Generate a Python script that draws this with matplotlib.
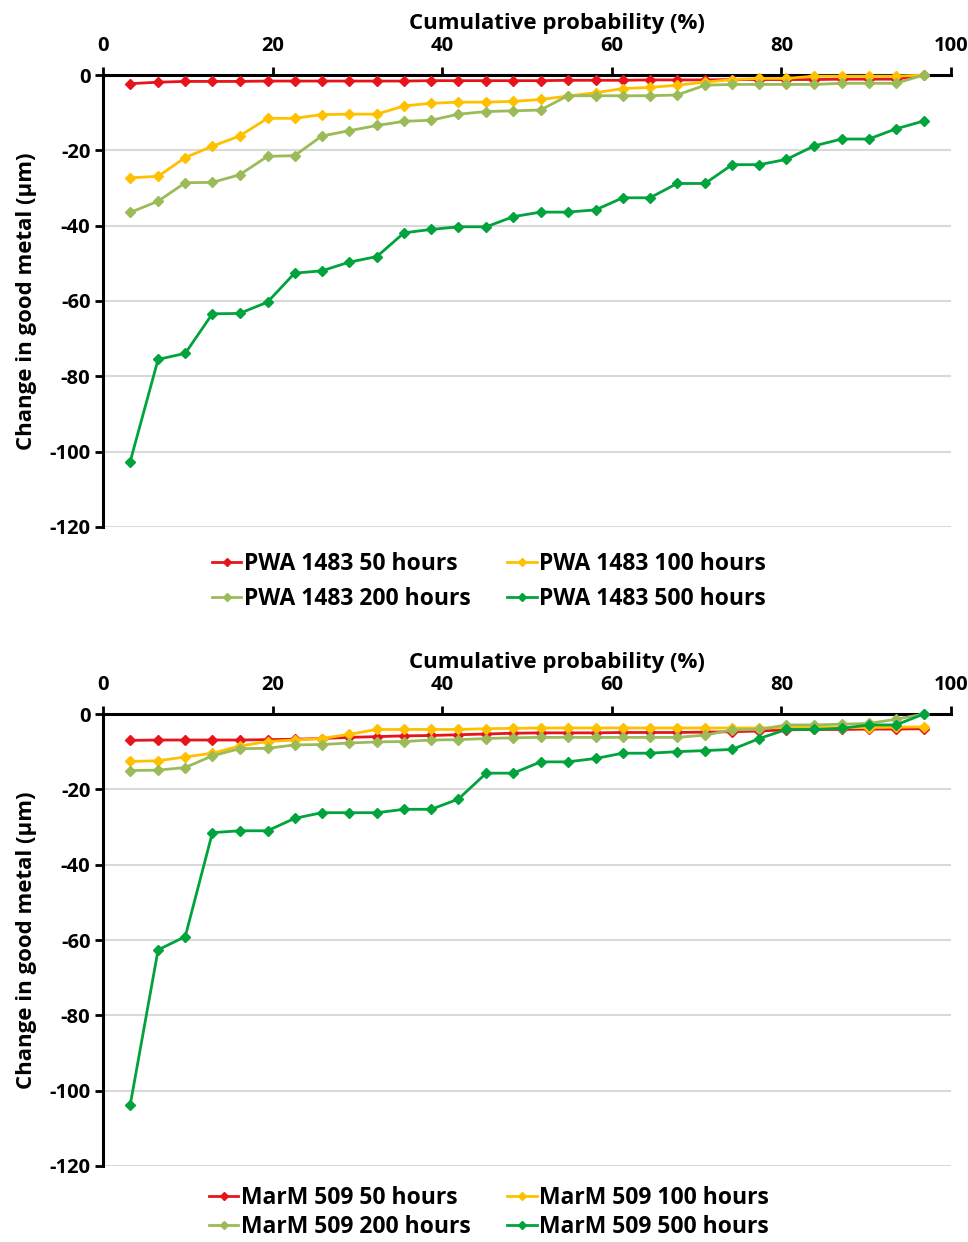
import matplotlib
matplotlib.use("Agg")
import matplotlib.pyplot as plt

plt.rcParams['font.family'] = ['Open Sans', 'DejaVu Sans']
plt.rcParams['axes.unicode_minus'] = False

# Cumulative probability (%) of each ranked measurement
prob = [3.2, 6.5, 9.7, 12.9, 16.1, 19.4, 22.6, 25.8, 29.0, 32.3,
        35.5, 38.7, 41.9, 45.2, 48.4, 51.6, 54.8, 58.1, 61.3, 64.5,
        67.7, 71.0, 74.2, 77.4, 80.6, 83.9, 87.1, 90.3, 93.5, 96.8]

# PWA 1483 - change in good metal (um)
pwa_50 = [-2.3, -1.9, -1.7, -1.7, -1.7, -1.6, -1.6, -1.6, -1.6, -1.6,
          -1.6, -1.5, -1.5, -1.5, -1.5, -1.5, -1.4, -1.4, -1.4, -1.3,
          -1.3, -1.3, -1.2, -1.2, -1.2, -1.2, -1.1, -1.1, -1.1, 0.0]
pwa_100 = [-27.3, -26.9, -21.9, -18.9, -16.2, -11.5, -11.5, -10.5, -10.4, -10.4,
           -8.2, -7.5, -7.2, -7.2, -7.0, -6.5, -5.6, -4.7, -3.6, -3.3,
           -2.7, -1.9, -1.2, -0.9, -0.9, -0.3, -0.3, -0.3, -0.3, 0.0]
pwa_200 = [-36.5, -33.5, -28.6, -28.5, -26.5, -21.6, -21.4, -16.2, -14.8, -13.4,
           -12.3, -12.0, -10.4, -9.7, -9.5, -9.3, -5.5, -5.5, -5.5, -5.5,
           -5.3, -2.7, -2.5, -2.5, -2.5, -2.5, -2.2, -2.2, -2.2, 0.0]
pwa_500 = [-102.7, -75.5, -73.9, -63.4, -63.3, -60.3, -52.6, -52.0, -49.7, -48.2,
           -41.9, -41.0, -40.3, -40.3, -37.6, -36.4, -36.4, -35.8, -32.6, -32.6,
           -28.8, -28.8, -23.8, -23.8, -22.4, -18.8, -17.0, -17.0, -14.3, -12.2]

# MarM 509 - change in good metal (um)
marm_50 = [-7.0, -6.9, -6.9, -6.9, -6.9, -6.8, -6.7, -6.5, -6.2, -6.0,
           -5.8, -5.7, -5.5, -5.3, -5.1, -5.0, -5.0, -5.0, -4.9, -4.9,
           -4.9, -4.8, -4.7, -4.5, -4.2, -4.1, -4.1, -4.0, -4.0, -3.9]
marm_100 = [-12.6, -12.4, -11.4, -10.4, -8.5, -7.3, -6.9, -6.5, -5.4, -4.1,
            -4.1, -4.1, -4.1, -3.9, -3.8, -3.7, -3.7, -3.7, -3.7, -3.7,
            -3.7, -3.7, -3.7, -3.7, -3.6, -3.6, -3.6, -3.6, -3.5, -3.4]
marm_200 = [-15.0, -14.9, -14.2, -11.1, -9.2, -9.1, -8.2, -8.1, -7.7, -7.4,
            -7.3, -6.9, -6.8, -6.5, -6.3, -6.2, -6.2, -6.2, -6.2, -6.2,
            -6.2, -5.6, -4.2, -4.1, -2.9, -2.9, -2.7, -2.5, -1.4, 0.0]
marm_500 = [-103.9, -62.6, -59.1, -31.5, -31.0, -31.0, -27.7, -26.2, -26.2, -26.2,
            -25.3, -25.3, -22.6, -15.7, -15.7, -12.7, -12.7, -11.8, -10.4, -10.4,
            -10.0, -9.7, -9.4, -6.5, -4.1, -4.1, -3.8, -2.9, -2.9, 0.0]

hours = ['50', '100', '200', '500']
colors = ['#E8141C', '#FFC000', '#9BBB59', '#00A33C']
x_ticks = [0, 20, 40, 60, 80, 100]
y_ticks = [0, -20, -40, -60, -80, -100, -120]


def draw_panel(ax, series, alloy, legend_top, spacing):
    for vals, h, c in zip(series, hours, colors):
        ax.plot(prob, vals, color=c, lw=2.0, marker='D', ms=5.5,
                label=f'{alloy} {h} hours', zorder=3, clip_on=False)

    ax.set_xlim(0, 100)
    ax.set_ylim(-120, 0)
    ax.set_xticks(x_ticks)
    ax.set_yticks(y_ticks)
    ax.xaxis.tick_top()
    ax.xaxis.set_label_position('top')
    for s in ['bottom', 'right']:
        ax.spines[s].set_visible(False)
    for s in ['top', 'left']:
        ax.spines[s].set_linewidth(2.2)
        ax.spines[s].set_zorder(2)
    ax.tick_params(axis='both', direction='out', length=6, width=2,
                   labelsize=14.5, pad=3)
    ax.tick_params(axis='x', pad=7.5)
    for lbl in ax.get_xticklabels() + ax.get_yticklabels():
        lbl.set_fontweight('bold')
    ax.yaxis.grid(True, color='#D9D9D9', lw=1.5, zorder=0)
    ax.set_axisbelow(True)
    ax.set_xlabel('Cumulative probability (%)', fontsize=16,
                  fontweight='bold', labelpad=5)
    ax.xaxis.label.set_x(0.535)
    ax.set_ylabel('Change in good metal (μm)', fontsize=16,
                  fontweight='bold', labelpad=9)

    # Excel-style row-wise legend: 50 | 100 on first row, 200 | 500 on second
    h, l = ax.get_legend_handles_labels()
    order = [0, 2, 1, 3]
    fig.legend([h[i] for i in order], [l[i] for i in order],
               loc='upper center', bbox_to_anchor=(0.505, legend_top), ncol=2,
               frameon=False, handlelength=1.3, handletextpad=0.1,
               columnspacing=1.6, labelspacing=spacing, markerscale=0.8,
               prop={'size': 16.5, 'weight': 'bold'})


fig = plt.figure(figsize=(9.68, 12.42), dpi=100)
ax1 = fig.add_axes([0.1064, 0.5757, 0.876, 0.3639])
ax2 = fig.add_axes([0.1064, 0.0612, 0.876, 0.3639])

draw_panel(ax1, [pwa_50, pwa_100, pwa_200, pwa_500], 'PWA 1483', 0.5722, 0.5)
draw_panel(ax2, [marm_50, marm_100, marm_200, marm_500], 'MarM 509', 0.0620, 0.25)

fig.savefig('out.png', dpi=100)
